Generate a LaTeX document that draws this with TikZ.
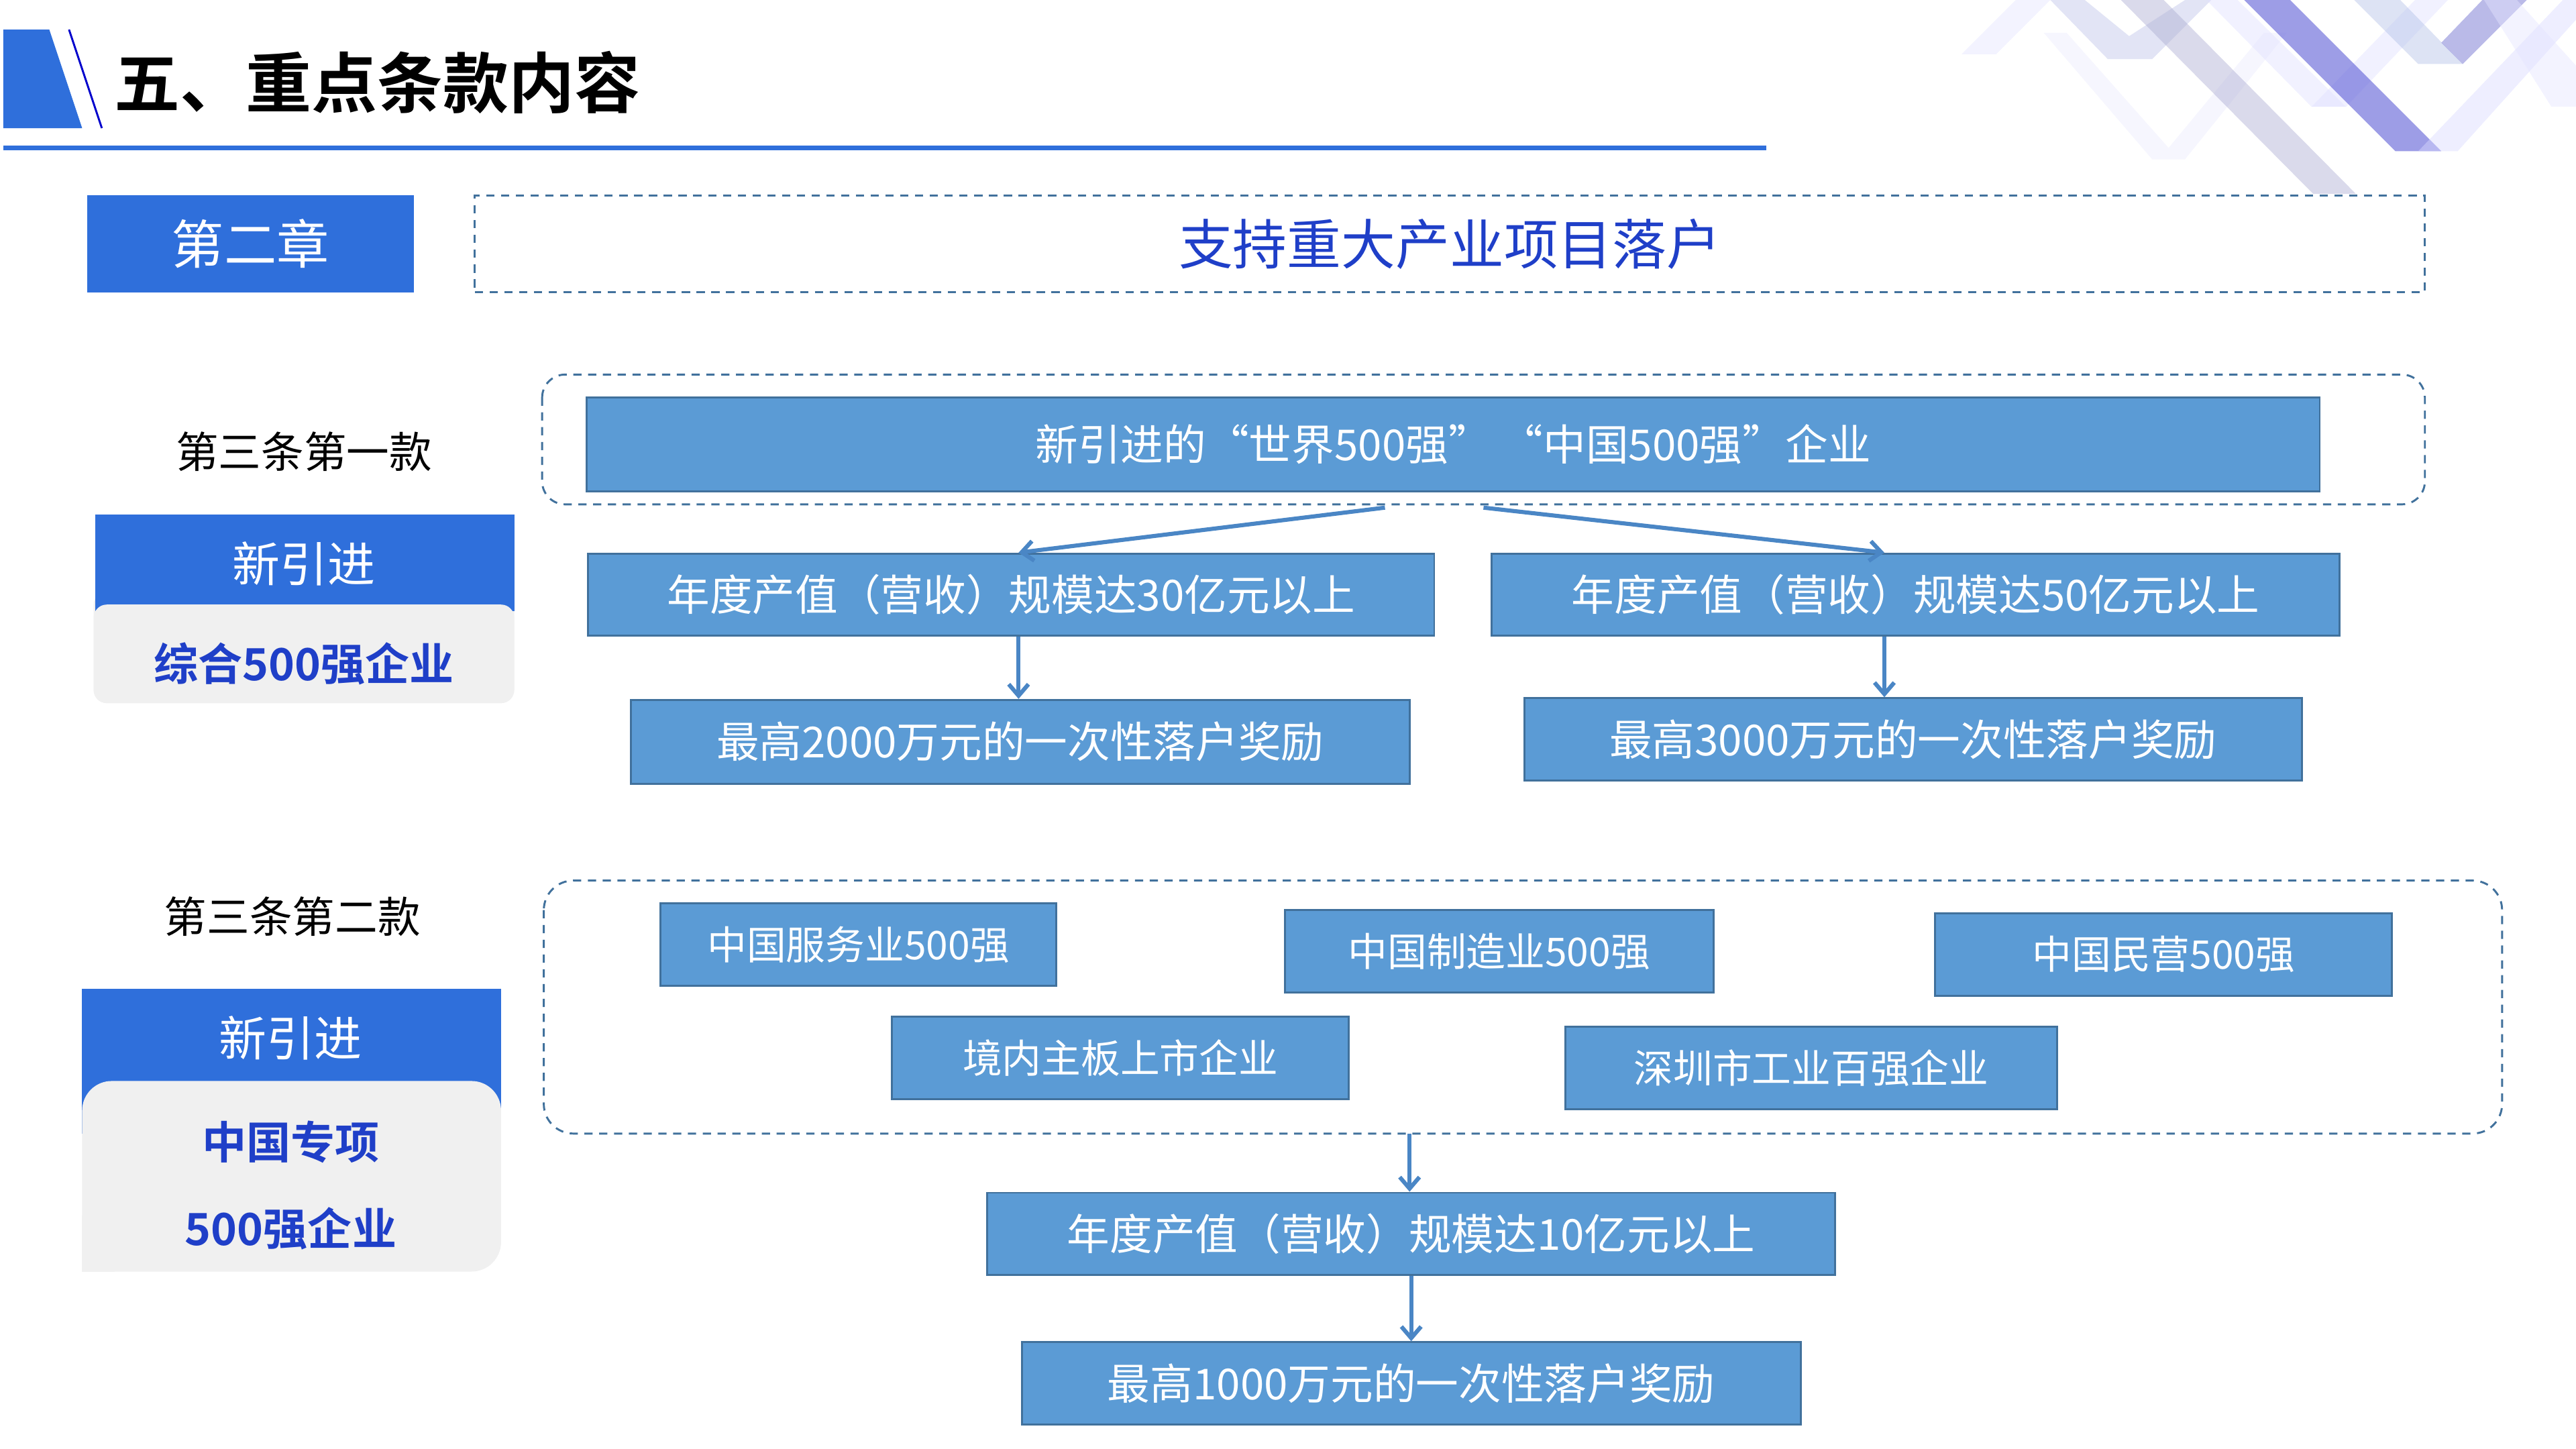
\documentclass[tikz,border=0pt]{standalone}
\usepackage{fontspec}
\setmainfont{Noto Sans CJK SC}
\newfontfamily\cjkb{Noto Sans CJK SC Bold}
\usetikzlibrary{arrows.meta}
\definecolor{boxfill}{HTML}{5B9BD5}
\definecolor{boxline}{HTML}{41719C}
\definecolor{hblue}{HTML}{2F6FDB}
\definecolor{tblue}{HTML}{1F3FC8}
\definecolor{dline}{HTML}{41719C}
\definecolor{arr}{HTML}{4A86C5}
\tikzset{
 bx/.style={draw=boxline,line width=1.2pt,fill=boxfill,text=white,font=\fontsize{26}{30}\selectfont,inner sep=0pt},
 dbox/.style={draw=dline,dashed,line width=1.2pt,dash pattern=on 5pt off 4pt},
 ar/.style={draw=arr,line width=2.5pt,-{Straight Barb[length=7pt,width=12pt]}},
 lbl/.style={font=\fontsize{26}{30}\selectfont},
 stripe/.style={draw=none,fill opacity=0.45}
}
\begin{document}
\begin{tikzpicture}[x=1pt,y=-1pt]
\useasboundingbox (0,0) rectangle (1568,882);
% decoration
\begin{scope}
\clip (0,0) rectangle (1568,882);
\fill[stripe,fill=gray!15!blue!8] (1244,20) -- (1258,20) -- (1320,90) -- (1378,20) -- (1392,20) -- (1330,97) -- (1310,97) -- cycle;
\fill[stripe,fill=blue!10] (1194,33) -- (1215,33) -- (1248,0) -- (1227,0) -- cycle;
\fill[stripe,fill=cyan!30!blue!25] (1248,0) -- (1269,0) -- (1296,22) -- (1330,0) -- (1346,0) -- (1310,36) -- (1283,36) -- cycle;
\fill[stripe,fill=blue!30!gray!50] (1291,0) -- (1317,0) -- (1434,118) -- (1408,118) -- cycle;
\fill[stripe,fill=blue!12] (1343,0) -- (1362,0) -- (1428,65) -- (1407,65) -- cycle;
\fill[stripe,fill=blue!12] (1407,65) -- (1428,65) -- (1490,0) -- (1470,0) -- cycle;
\fill[stripe,fill=blue!60!gray!80,fill opacity=0.6] (1366,0) -- (1394,0) -- (1486,92) -- (1458,92) -- cycle;
\fill[stripe,fill=cyan!40!blue!30] (1433,0) -- (1461,0) -- (1499,39) -- (1472,39) -- cycle;
\fill[stripe,fill=blue!50!gray!60,fill opacity=0.6] (1486,26) -- (1511,0) -- (1538,0) -- (1499,39) -- cycle;
\fill[stripe,fill=blue!15] (1472,92) -- (1560,0) -- (1568,0) -- (1568,12) -- (1496,92) -- cycle;
\fill[stripe,fill=blue!10] (1512,0) -- (1532,0) -- (1568,40) -- (1568,65) -- (1553,65) -- cycle;
\end{scope}
% header
\fill[hblue] (2,18) -- (30,18) -- (50,78) -- (2,78) -- cycle;
\draw[blue!80!black,line width=1.2pt] (42,18) -- (62,78);
\node[anchor=west,font=\cjkb\fontsize{40}{44}\selectfont] (title) at (66,50) {五、重点条款内容};
\fill[hblue] (2,88.5) rectangle (1075,91.5);
% chapter
\node[fill=hblue,text=white,minimum width=199pt,minimum height=59pt,inner sep=0pt,font=\fontsize{32}{36}\selectfont] (ch) at (152.5,148.5) {第二章};
\node[dbox,minimum width=1187pt,minimum height=59pt,inner sep=0pt,text=tblue,font=\fontsize{33}{38}\selectfont] (head) at (882.5,148.5) {支持重大产业项目落户};
% section 1
\node[lbl] (s1) at (185,275) {第三条第一款};
\fill[gray!12,rounded corners=8pt] (57,360) rectangle (313,428);
\fill[hblue] (58,313) rectangle (313,372);
\fill[gray!12,rounded corners=8pt] (57,368) rectangle (313,428);
\node[text=white,font=\fontsize{29}{32}\selectfont] (c1a) at (185,343) {新引进};
\node[text=tblue,font=\cjkb\fontsize{27}{30}\selectfont] (c1b) at (185,404) {综合500强企业};
\draw[dbox,rounded corners=14pt] (330,228) rectangle (1476,307);
\node[bx,minimum width=1055pt,minimum height=57pt] (top) at (884.5,270.5) {新引进的“世界500强” “中国500强”企业};
\node[bx,minimum width=515pt,minimum height=50pt] (a30) at (615.5,362) {年度产值（营收）规模达30亿元以上};
\node[bx,minimum width=516pt,minimum height=50pt] (a50) at (1166,362) {年度产值（营收）规模达50亿元以上};
\node[bx,minimum width=474pt,minimum height=51pt] (r2) at (621,451.5) {最高2000万元的一次性落户奖励};
\node[bx,minimum width=473pt,minimum height=50pt] (r3) at (1164.5,450) {最高3000万元的一次性落户奖励};
\coordinate (t1) at (843,309);
\coordinate (t2) at (903,309);
\draw[ar] (t1) -- (a30.north -| 620,0);
\draw[ar] (t2) -- (a50.north -| 1147,0);
\draw[ar] (a30.south -| 620,0) -- (r2.north -| 620,0);
\draw[ar] (a50.south -| 1147,0) -- (r3.north -| 1147,0);
% section 2
\node[lbl] (s2) at (178,558) {第三条第二款};
\fill[hblue] (50,602) rectangle (305,690);
\fill[gray!12,rounded corners=18pt] (50,658) rectangle (305,774);
\fill[gray!12] (50,740) rectangle (70,774);
\node[text=white,font=\fontsize{29}{32}\selectfont] (c2a) at (177,632) {新引进};
\node[text=tblue,font=\cjkb\fontsize{27}{30}\selectfont] (c2b) at (177,695) {中国专项};
\node[text=tblue,font=\cjkb\fontsize{27}{30}\selectfont] (c2c) at (177,748) {500强企业};
\draw[dbox,rounded corners=18pt] (331,536) rectangle (1523,690);
\tikzset{sb/.style={bx,font=\fontsize{24}{28}\selectfont,minimum height=50pt}}
\node[sb,minimum width=241pt] (k1) at (522.5,575) {中国服务业500强};
\node[sb,minimum width=261pt] (k2) at (912.5,579) {中国制造业500强};
\node[sb,minimum width=278pt] (k3) at (1317,581) {中国民营500强};
\node[sb,minimum width=278pt] (k4) at (682,644) {境内主板上市企业};
\node[sb,minimum width=299pt] (k5) at (1102.5,650) {深圳市工业百强企业};
\coordinate (g) at (858,690);
\node[bx,minimum width=516pt,minimum height=50pt] (a10) at (859,751) {年度产值（营收）规模达10亿元以上};
\node[bx,minimum width=474pt,minimum height=50pt] (r1) at (859,842) {最高1000万元的一次性落户奖励};
\draw[ar] (g) -- (a10.north -| g);
\draw[ar] (a10.south) -- (r1.north);
\end{tikzpicture}
\end{document}
